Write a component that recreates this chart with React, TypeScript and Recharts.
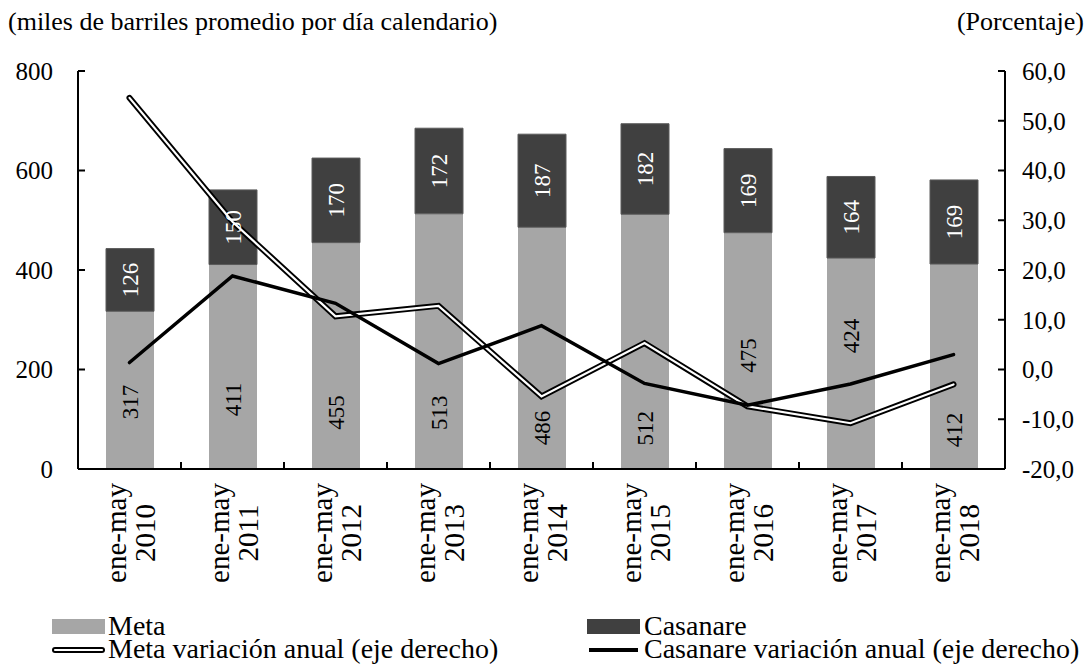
import React from 'react'
import { Bar, ComposedChart, LabelList, Line, XAxis, YAxis } from 'recharts'

const PERIODS = ['2010', '2011', '2012', '2013', '2014', '2015', '2016', '2017', '2018']
const META = [317, 411, 455, 513, 486, 512, 475, 424, 412]
const CASANARE = [126, 150, 170, 172, 187, 182, 169, 164, 169]
const META_VAR = [54.6, 29.7, 10.7, 12.8, -5.4, 5.3, -7.4, -10.8, -3.0]
const CASANARE_VAR = [1.4, 18.8, 13.3, 1.2, 8.8, -2.8, -7.2, -2.9, 3.0]

const LEFT_TICKS = [0, 200, 400, 600, 800]
const RIGHT_TICKS = [-20, -10, 0, 10, 20, 30, 40, 50, 60]

// where each Meta value label sits inside its segment (share of the height, from the top)
const META_LABEL_AT = [0.575, 0.66, 0.75, 0.78, 0.83, 0.84, 0.52, 0.37, 0.81]

const FONT = '"Liberation Serif", "Times New Roman", serif'
const META_COLOR = '#a6a6a6'
const CASANARE_COLOR = '#404040'

const data = PERIODS.map((p, i) => ({
  period: p,
  meta: META[i],
  casanare: CASANARE[i],
  metaVar: META_VAR[i],
  casanareVar: CASANARE_VAR[i],
}))

const fmtPct = (v: number) => v.toFixed(1).replace('.', ',')

function PeriodTick(props: any) {
  const { x, y, payload, index } = props
  const half = payload?.offset ?? 51.5
  const last = index === PERIODS.length - 1
  return (
    <g>
      {!last && <line x1={x + half} x2={x + half} y1={y} y2={y - 7} stroke="#000" strokeWidth={2} />}
      <g transform={`translate(${x},${y + 64}) rotate(-90)`}>
        <text textAnchor="middle" fontFamily={FONT} fontSize={29} fill="#000">
          <tspan x={0} y={-4}>ene-may</tspan>
          <tspan x={0} y={25}>{payload.value}</tspan>
        </text>
      </g>
    </g>
  )
}

function segmentBox(props: any) {
  const vb = props.viewBox ?? props
  const x = Number(vb.x ?? props.x)
  const y = Number(vb.y ?? props.y)
  const w = Number(vb.width ?? props.width)
  const h = Number(vb.height ?? props.height)
  return { cx: x + w / 2, top: Math.min(y, y + h), h: Math.abs(h) }
}

function MetaLabel(props: any) {
  const { cx, top, h } = segmentBox(props)
  const cy = top + h * (META_LABEL_AT[props.index] ?? 0.5)
  return (
    <text
      transform={`translate(${cx},${cy}) rotate(-90)`}
      textAnchor="middle"
      dominantBaseline="central"
      fontFamily={FONT}
      fontSize={23}
      fill="#000"
    >
      {props.value}
    </text>
  )
}

function CasanareLabel(props: any) {
  const { cx, top, h } = segmentBox(props)
  return (
    <text
      transform={`translate(${cx},${top + h / 2}) rotate(-90)`}
      textAnchor="middle"
      dominantBaseline="central"
      fontFamily={FONT}
      fontSize={23}
      fill="#fff"
    >
      {props.value}
    </text>
  )
}

function Overlay() {
  const txt = { fontFamily: FONT, fill: '#000' }
  return (
    <svg
      width={1090}
      height={664}
      style={{ position: 'absolute', left: 0, top: 0, pointerEvents: 'none' }}
    >
      <text x={8} y={30} fontSize={26} {...txt}>
        (miles de barriles promedio por día calendario)
      </text>
      <text x={1084} y={30} fontSize={26} textAnchor="end" {...txt}>
        (Porcentaje)
      </text>

      <rect x={52} y={619} width={53} height={15} fill={META_COLOR} />
      <text x={108} y={635} fontSize={28} {...txt}>Meta</text>
      <rect x={587} y={619} width={53} height={15} fill={CASANARE_COLOR} />
      <text x={644} y={635} fontSize={28} {...txt}>Casanare</text>

      <line x1={55} x2={102} y1={650} y2={650} stroke="#000" strokeWidth={6} strokeLinecap="round" />
      <line x1={55} x2={102} y1={650} y2={650} stroke="#fff" strokeWidth={2.2} strokeLinecap="round" />
      <text x={108} y={658} fontSize={28} {...txt}>Meta variación anual (eje derecho)</text>
      <line x1={589} x2={638} y1={650} y2={650} stroke="#000" strokeWidth={4} />
      <text x={644} y={658} fontSize={28} {...txt}>Casanare variación anual (eje derecho)</text>
    </svg>
  )
}

export default function App() {
  return (
    <div style={{ position: 'absolute', left: 0, top: 0, width: 1090, height: 664, background: '#fff' }}>
      <ComposedChart
        width={1090}
        height={664}
        data={data}
        margin={{ top: 71, right: 5, bottom: 0, left: 8 }}
      >
        <XAxis
          dataKey="period"
          height={195}
          interval={0}
          tickLine={false}
          tickSize={0}
          tickMargin={0}
          axisLine={{ stroke: '#000', strokeWidth: 2 }}
          tick={<PeriodTick />}
        />
        <YAxis
          yAxisId="left"
          width={70}
          domain={[0, 800]}
          ticks={LEFT_TICKS}
          interval={0}
          tickSize={-7}
          tickMargin={32}
          axisLine={{ stroke: '#000', strokeWidth: 2 }}
          tickLine={{ stroke: '#000', strokeWidth: 2 }}
          tick={{ fontSize: 25, fill: '#000', fontFamily: FONT }}
        />
        <YAxis
          yAxisId="right"
          orientation="right"
          width={80}
          domain={[-20, 60]}
          ticks={RIGHT_TICKS}
          interval={0}
          tickFormatter={fmtPct}
          tickSize={-7}
          tickMargin={24}
          axisLine={{ stroke: '#000', strokeWidth: 2 }}
          tickLine={{ stroke: '#000', strokeWidth: 2 }}
          tick={{ fontSize: 25, fill: '#000', fontFamily: FONT }}
        />
        <Bar yAxisId="left" dataKey="meta" stackId="prod" fill={META_COLOR} barSize={48} isAnimationActive={false}>
          <LabelList dataKey="meta" content={<MetaLabel />} />
        </Bar>
        <Bar
          yAxisId="left"
          dataKey="casanare"
          stackId="prod"
          fill={CASANARE_COLOR}
          stroke="#5a5a5a"
          strokeWidth={1}
          barSize={48}
          isAnimationActive={false}
        >
          <LabelList dataKey="casanare" content={<CasanareLabel />} />
        </Bar>
        <Line
          yAxisId="right"
          dataKey="metaVar"
          stroke="#000"
          strokeWidth={6}
          strokeLinecap="round"
          dot={false}
          activeDot={false}
          isAnimationActive={false}
        />
        <Line
          yAxisId="right"
          dataKey="metaVar"
          stroke="#fff"
          strokeWidth={2.2}
          strokeLinecap="round"
          dot={false}
          activeDot={false}
          isAnimationActive={false}
        />
        <Line
          yAxisId="right"
          dataKey="casanareVar"
          stroke="#000"
          strokeWidth={3.5}
          strokeLinecap="round"
          dot={false}
          activeDot={false}
          isAnimationActive={false}
        />
      </ComposedChart>
      <Overlay />
    </div>
  )
}
